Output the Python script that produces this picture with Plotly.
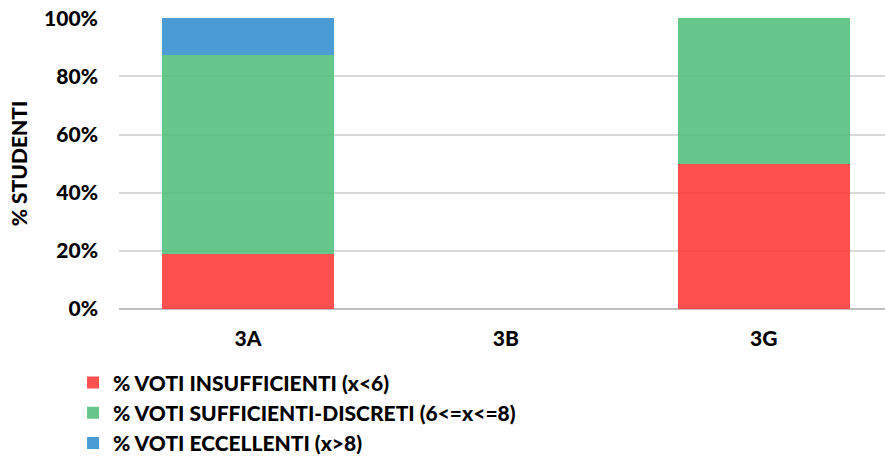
import plotly.graph_objects as go

# ── Data ──────────────────────────────────────────────────────────────
CLASSES = ["3A", "3B", "3G"]
INSUFF  = [0.1875, 0, 0.50]
SUFF    = [0.6875, 0, 0.50]
ECCEL   = [0.125, 0, 0]
TICKS   = [0, 0.2, 0.4, 0.6, 0.8, 1.0]
TICK_TEXT = ["0%", "20%", "40%", "60%", "80%", "100%"]

RED   = "rgba(255,49,49,0.85)"
GREEN = "rgba(76,188,117,0.85)"
BLUE  = "rgba(44,137,204,0.85)"
FONT  = "Lato, 'Open Sans', sans-serif"
W     = 900

fig = go.Figure()
for name, vals, color in [
    ("% VOTI INSUFFICIENTI (x<6)", INSUFF, RED),
    ("% VOTI SUFFICIENTI-DISCRETI (6<=x<=8)", SUFF, GREEN),
    ("% VOTI ECCELLENTI (x>8)", ECCEL, BLUE),
]:
    fig.add_trace(go.Bar(
        x=CLASSES, y=vals, name=name,
        marker=dict(color=color, line=dict(width=0)),
        width=0.667,
    ))

fig.update_layout(
    barmode="stack",
    width=885, height=456,
    paper_bgcolor="white", plot_bgcolor="white",
    font=dict(family=FONT, color="black", size=21, weight=W),
    margin=dict(l=119, r=0, t=18, b=147, autoexpand=False),
    showlegend=True,
    legend=dict(
        orientation="v", x=-0.06, xanchor="left", y=-0.183, yanchor="top",
        font=dict(size=21, family=FONT, weight=W),
        traceorder="normal", tracegroupgap=0, itemwidth=30,
    ),
    xaxis=dict(
        range=[-0.5, 2.47], showgrid=False, showline=False, ticks="",
        tickfont=dict(size=21, weight=W), ticklabelstandoff=15,
    ),
    yaxis=dict(
        range=[0, 1.001], tickvals=TICKS, ticktext=TICK_TEXT,
        gridcolor="#D9D9D9", gridwidth=1.5, zeroline=True,
        zerolinecolor="#BFBFBF", zerolinewidth=2,
        ticks="", ticklabelstandoff=20, ticklabeloverflow="allow",
        tickfont=dict(size=21, weight=W),
        title=dict(text="% STUDENTI", font=dict(size=21, weight=W), standoff=10),
    ),
)

# drop the default 8px page margin so the figure sits at the window corner
fig.write_html("out.html", config=dict(displayModeBar=False),
               post_script="document.body.style.margin='0';")
